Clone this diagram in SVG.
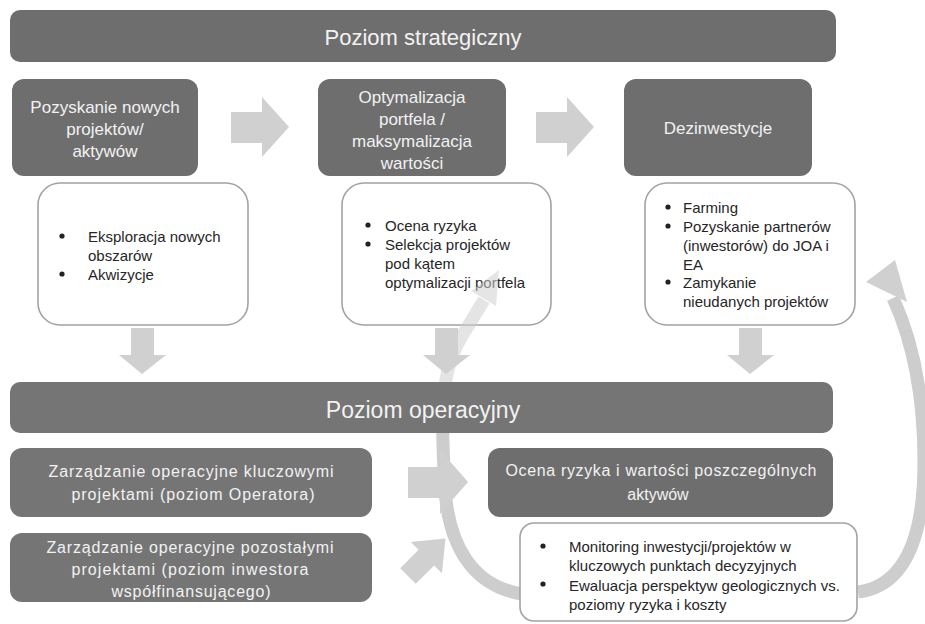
<svg xmlns="http://www.w3.org/2000/svg" width="925" height="624" viewBox="0 0 925 624">
<style>
.dark{fill:#6e6e6e}
.darkop{fill:#757575}
.wbox{fill:#ffffff;stroke:#a3a3a3;stroke-width:1.6}
.arr{fill:#d0d0d0}
.curve{fill:none;stroke:#cdcdcd;stroke-width:13}
.t{font-family:"Liberation Sans",Arial,sans-serif;fill:#f2f2f2;text-anchor:middle}
.b{font-family:"Liberation Sans",Arial,sans-serif;fill:#262626;font-size:15px}
</style>
<rect width="925" height="624" fill="#ffffff"/>

<g id="strategic-bar">
  <rect class="dark" x="10" y="10" width="826" height="52" rx="10"/>
  <text class="t" x="423" y="45" font-size="22">Poziom strategiczny</text>
</g>

<g id="box-pozyskanie">
  <rect class="dark" x="12" y="79" width="186" height="97" rx="12"/>
  <text class="t" x="105" y="113" font-size="17">Pozyskanie nowych</text>
  <text class="t" x="105" y="135" font-size="17">projektów/</text>
  <text class="t" x="105" y="157" font-size="17">aktywów</text>
</g>

<g id="box-optymalizacja">
  <rect class="dark" x="318" y="79" width="188" height="97" rx="12"/>
  <text class="t" x="412" y="103" font-size="17">Optymalizacja</text>
  <text class="t" x="412" y="125" font-size="17">portfela /</text>
  <text class="t" x="412" y="147" font-size="17">maksymalizacja</text>
  <text class="t" x="412" y="169" font-size="17">wartości</text>
</g>

<g id="box-dezinwestycje">
  <rect class="dark" x="624" y="79" width="188" height="97" rx="12"/>
  <text class="t" x="718" y="134" font-size="17">Dezinwestycje</text>
</g>

<g id="arrows-top">
  <polygon class="arr" points="231,112 262,112 262,97 289,127 262,157 262,143 231,143"/>
  <polygon class="arr" points="536,112 567,112 567,97 594,127 567,157 567,143 536,143"/>
</g>

<g id="wbox-1">
  <rect class="wbox" x="38" y="183" width="210" height="142" rx="22"/>
  <circle cx="62" cy="236" r="2.6" fill="#222"/>
  <circle cx="62" cy="274" r="2.6" fill="#222"/>
  <text class="b" x="88" y="242">Eksploracja nowych</text>
  <text class="b" x="88" y="261">obszarów</text>
  <text class="b" x="88" y="280">Akwizycje</text>
</g>

<g id="wbox-2">
  <rect class="wbox" x="342" y="183" width="209" height="142" rx="22"/>
  <circle cx="368" cy="225" r="2.6" fill="#222"/>
  <circle cx="368" cy="244" r="2.6" fill="#222"/>
  <text class="b" x="385" y="231">Ocena ryzyka</text>
  <text class="b" x="385" y="250">Selekcja projektów</text>
  <text class="b" x="385" y="269">pod kątem</text>
  <text class="b" x="385" y="288">optymalizacji portfela</text>
</g>

<g id="wbox-3">
  <rect class="wbox" x="645" y="183" width="210" height="142" rx="22"/>
  <circle cx="668" cy="207" r="2.6" fill="#222"/>
  <circle cx="668" cy="226" r="2.6" fill="#222"/>
  <circle cx="668" cy="282" r="2.6" fill="#222"/>
  <text class="b" x="683" y="213">Farming</text>
  <text class="b" x="683" y="232">Pozyskanie partnerów</text>
  <text class="b" x="683" y="251">(inwestorów) do JOA i</text>
  <text class="b" x="683" y="270">EA</text>
  <text class="b" x="683" y="288">Zamykanie</text>
  <text class="b" x="683" y="307">nieudanych projektów</text>
</g>

<g id="connectors">
  <path class="curve" d="M 522,594 C 472,586 449,545 445,490 C 443,455 442,430 443,405"/>
  <path class="curve" d="M 443,415 C 444,380 448,360 462,336 L 484,300" opacity="0.55"/>
  <polygon class="arr" points="499,270 496,306 471,291" opacity="0.55"/>
  <path class="curve" d="M 858,592 C 904,586 924,540 924,462 C 924,385 910,335 893,298"/>
  <polygon class="arr" points="866,282 895,260 907,302"/>
</g>

<g id="arrows-down">
  <polygon class="arr" points="131,328 154,328 154,355 166,355 142,374 119,355 131,355"/>
  <polygon class="arr" points="435,328 458,328 458,355 470,355 446,374 423,355 435,355"/>
  <polygon class="arr" points="739,328 762,328 762,355 774,355 750,374 727,355 739,355"/>
</g>

<g id="operational-bar">
  <rect class="darkop" x="10" y="382" width="823" height="51" rx="10"/>
  <text class="t" x="423" y="418" font-size="23">Poziom operacyjny</text>
</g>

<g id="box-op1">
  <rect class="darkop" x="10" y="448" width="362" height="69" rx="12"/>
  <text class="t" x="191" y="477" font-size="16" textLength="285" lengthAdjust="spacing">Zarządzanie operacyjne kluczowymi</text>
  <text class="t" x="193" y="500" font-size="16" textLength="243" lengthAdjust="spacing">projektami (poziom Operatora)</text>
</g>

<g id="box-op2">
  <rect class="darkop" x="10" y="533" width="362" height="69" rx="12"/>
  <text class="t" x="190" y="553" font-size="16" textLength="287" lengthAdjust="spacing">Zarządzanie operacyjne pozostałymi</text>
  <text class="t" x="190" y="575" font-size="16" textLength="237" lengthAdjust="spacing">projektami (poziom inwestora</text>
  <text class="t" x="191" y="597" font-size="16" textLength="159" lengthAdjust="spacing">współfinansującego)</text>
</g>

<g id="arrows-op">
  <polygon class="arr" points="408,467 440,467 440,450 468,482 440,514 440,498 408,498"/>
  <polygon class="arr" transform="translate(408,576) rotate(-45)" points="0,-11 26,-11 26,-22 53,0 26,22 26,11 0,11"/>
</g>

<g id="box-ocena">
  <rect class="dark" x="488" y="448" width="345" height="69" rx="12"/>
  <text class="t" x="661" y="476" font-size="16" textLength="311" lengthAdjust="spacing">Ocena ryzyka i wartości poszczególnych</text>
  <text class="t" x="658" y="500" font-size="16">aktywów</text>
</g>

<g id="wbox-bottom">
  <rect class="wbox" x="520" y="523" width="337" height="98" rx="14"/>
  <circle cx="543" cy="546" r="2.6" fill="#222"/>
  <circle cx="543" cy="584" r="2.6" fill="#222"/>
  <text class="b" x="569" y="552">Monitoring inwestycji/projektów w</text>
  <text class="b" x="569" y="571">kluczowych punktach decyzyjnych</text>
  <text class="b" x="569" y="591">Ewaluacja perspektyw geologicznych vs.</text>
  <text class="b" x="569" y="610">poziomy ryzyka i koszty</text>
</g>
</svg>
